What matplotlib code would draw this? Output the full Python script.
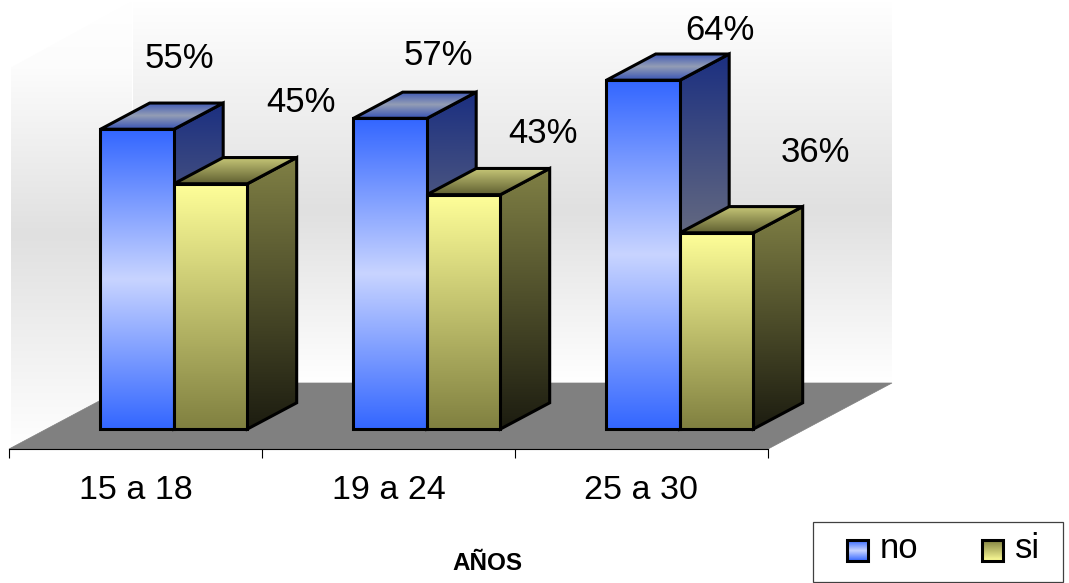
import numpy as np
import matplotlib
matplotlib.use('Agg')
import matplotlib.pyplot as plt
from matplotlib.colors import LinearSegmentedColormap
from matplotlib.patches import Polygon, Rectangle

plt.rcParams['font.family'] = ['Liberation Sans', 'DejaVu Sans']

categories = ['15 a 18', '19 a 24', '25 a 30']
no_values = [55, 57, 64]
si_values = [45, 43, 36]
series_names = ['no', 'si']
x_title = 'AÑOS'

# scale of the picture
W, H = 1069, 583
PX_X = 253.0    # pixels per category
PX_Y = 5.45     # pixels per percent
X0, Y0 = 9, 449     # pixels of the axis origin
DEPTH_X = 124 / PX_X
DEPTH_Y = 66 / PX_Y
WALL_TOP = 70
BAR_W = 0.2905
GAP = 0.213
D_FRONT, D_BACK = 0.303, 0.70

# label offsets from the back centre of each bar top, in pixels
label_off = {(0, 0): (-7, 45), (1, 0): (-1, 37), (2, 0): (28, 24),
             (0, 1): (41, 55), (1, 1): (30, 35), (2, 1): (49, 54)}

front_cm = [['#3366ff', '#c8d4ff', '#3366ff'], ['#808040', '#ffff99']]
side_cm = [['#1b2f80', '#666b80', '#1b2f80'], ['#1c1c10', '#808045']]
top_cm = [['#3a55b5', '#939db5', '#3a55b5'], ['#5e5e30', '#c8c878']]


def proj(x, d, y):
    return x + d * DEPTH_X, y + d * DEPTH_Y


def grad_face(axis, pts, colors, stops=None, z=1, edge='k', lw=2.2):
    pts = np.array(pts)
    xs, ys = pts[:, 0], pts[:, 1]
    if stops is None:
        cmap = LinearSegmentedColormap.from_list('c', colors)
    else:
        cmap = LinearSegmentedColormap.from_list('c', list(zip(stops, colors)))
    img = axis.imshow(np.linspace(0, 1, 256).reshape(-1, 1), cmap=cmap, origin='lower', aspect='auto',
                      extent=[xs.min(), xs.max(), ys.min(), ys.max()], zorder=z, vmin=0, vmax=1)
    poly = Polygon(pts, closed=True, transform=axis.transData, facecolor='none',
                   edgecolor=edge, linewidth=lw, joinstyle='miter', zorder=z + 0.001)
    axis.add_patch(poly)
    img.set_clip_path(poly)


fig = plt.figure(figsize=(W / 100, H / 100), dpi=100)
ax = fig.add_axes([0, 0, 1, 1])
ax.patch.set_alpha(0)

# walls
n_cat = len(categories)
grad_face(ax, [proj(0.008, 0, 0), proj(0.008, 0, WALL_TOP), proj(-0.004, 1, WALL_TOP), proj(-0.004, 1, 0)],
          ['#ffffff', '#e0e0e0', '#fcfcfc', '#ffffff'], stops=[0, 0.48, 0.85, 1], z=1, edge='none', lw=0)
grad_face(ax, [proj(0, 1, 0), proj(0, 1, WALL_TOP), proj(n_cat, 1, WALL_TOP), proj(n_cat, 1, 0)],
          ['#ffffff', '#e0e0e0', '#ffffff'], stops=[0, 0.45, 1], z=1.1, edge='none', lw=0)

# floor
ax.add_patch(Polygon([proj(0, 0, 0), proj(0, 1, 0), proj(n_cat, 1, 0), proj(n_cat, 0, 0)],
                     closed=True, facecolor='#808080', edgecolor='#808080', lw=0.5, zorder=2))

z = 3.0
for i in range(n_cat):
    for j, vals in enumerate([no_values, si_values]):
        v = vals[i]
        x0 = i + GAP + j * BAR_W
        x1 = x0 + BAR_W
        side = [proj(x1, D_FRONT, 0), proj(x1, D_FRONT, v), proj(x1, D_BACK, v), proj(x1, D_BACK, 0)]
        top = [proj(x0, D_FRONT, v), proj(x1, D_FRONT, v), proj(x1, D_BACK, v), proj(x0, D_BACK, v)]
        front = [proj(x0, D_FRONT, 0), proj(x1, D_FRONT, 0), proj(x1, D_FRONT, v), proj(x0, D_FRONT, v)]
        grad_face(ax, side, side_cm[j], z=z)
        grad_face(ax, top, top_cm[j], z=z + 0.1)
        grad_face(ax, front, front_cm[j], z=z + 0.2)
        z += 1

        bx, by = proj((x0 + x1) / 2, D_BACK, v)
        ax.annotate(f'{v}%', xy=(bx, by), xytext=label_off[(i, j)], textcoords='offset pixels',
                    ha='center', va='center', fontsize=25, color='k', zorder=50)

# axis
ax.set_xlim(-X0 / PX_X, (W - X0) / PX_X)
ax.set_ylim((Y0 - H) / PX_Y, Y0 / PX_Y)
for s in ['left', 'right', 'top']:
    ax.spines[s].set_visible(False)
ax.spines['bottom'].set_position(('data', 0))
ax.spines['bottom'].set_bounds(0, n_cat)
ax.spines['bottom'].set_linewidth(0.8)
ax.spines['bottom'].set_zorder(60)
ax.set_yticks([])
ax.set_xticks(np.arange(n_cat + 1))
ax.set_xticklabels([])
ax.set_xticks(np.arange(n_cat) + 0.5, minor=True)
ax.set_xticklabels(categories, minor=True, fontsize=24.5)
ax.tick_params(axis='x', which='major', direction='out', length=6.5, width=0.8)
ax.tick_params(axis='x', which='minor', length=0, pad=19)
ax.text(487 / W, 1 - 563 / H, x_title, transform=fig.transFigure, ha='center', va='center',
        fontsize=17.5, fontweight='bold', color='k')

# legend drawn in pixel coordinates
lg = fig.add_axes([0, 0, 1, 1])
lg.patch.set_alpha(0)
lg.axis('off')
lg.add_patch(Rectangle((813, 522), 250, 60, facecolor='white', edgecolor='#404040', lw=0.9, zorder=1))
swatch_x = [847, 982]
for j, name in enumerate(series_names):
    sx = swatch_x[j]
    grad_face(lg, [(sx, 540), (sx + 21, 540), (sx + 21, 561), (sx, 561)], front_cm[j], z=2, lw=2.2)
    lg.text(sx + 33, 549, name, fontsize=25, ha='left', va='center', color='k')
lg.set_xlim(0, W)
lg.set_ylim(H, 0)

fig.savefig('out.png', dpi=100)
